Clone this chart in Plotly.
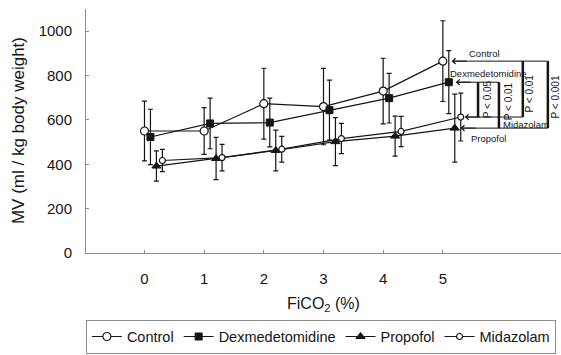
import plotly.graph_objects as go

# ---------------- data ----------------
fico2 = [0, 1, 2, 3, 4, 5]
tick_labels = ["0", "1", "2", "3", "4", "5"]
y_ticks = [0, 200, 400, 600, 800, 1000]

control_mean = [550, 550, 673, 660, 730, 865]
control_sd = [135, 105, 160, 172, 148, 182]
dex_mean = [523, 584, 588, 644, 698, 770]
dex_sd = [125, 114, 110, 135, 112, 142]
prop_mean = [392, 426, 462, 502, 527, 563]
prop_sd = [68, 95, 92, 108, 90, 153]
mid_mean = [417, 430, 468, 516, 548, 613]
mid_sd = [50, 60, 58, 68, 68, 108]

series_names = ["Control", "Dexmedetomidine", "Propofol", "Midazolam"]
p_labels = ["P < 0.05", "P < 0.01", "P < 0.01", "P < 0.001"]

# ---------------- styles ----------------
INK = "#151515"
AXIS = "#8c8c8c"
FONT = "Liberation Sans, Arial, sans-serif"
offsets = [0.0, 0.1, 0.2, 0.3]
markers = [
    dict(symbol="circle", size=8, color="white", line=dict(color=INK, width=1.2)),
    dict(symbol="square", size=7, color=INK, line=dict(color=INK, width=1)),
    dict(symbol="triangle-up", size=8, color=INK, line=dict(color=INK, width=1)),
    dict(symbol="circle", size=6, color="white", line=dict(color=INK, width=1.2)),
]

means = [control_mean, dex_mean, prop_mean, mid_mean]
sds = [control_sd, dex_sd, prop_sd, mid_sd]

fig = go.Figure()
for name, m, s, off, mk in zip(series_names, means, sds, offsets, markers):
    fig.add_trace(go.Scatter(
        x=[v + off for v in fico2], y=m, name=name, mode="lines+markers",
        line=dict(color=INK, width=1.2), marker=mk,
        error_y=dict(type="data", array=s, visible=True, width=2.5,
                     thickness=1.2, color=INK),
        cliponaxis=False,
    ))

# ---------------- significance brackets ----------------
c5, d5, p5, m5 = control_mean[-1], dex_mean[-1], prop_mean[-1], mid_mean[-1]
tip = dict(c=5.15, d=5.22, m=5.37, p=5.30)
bx = [5.59, 5.94, 6.34, 6.76]  # P<0.05 (D-M), P<0.01 (D-P), P<0.01 (C-M), P<0.001 (C-P)

shapes = []
def hline(x0, x1, y, w=1):
    shapes.append(dict(type="line", xref="x", yref="y", x0=x0, x1=x1, y0=y, y1=y,
                       line=dict(color=INK, width=w)))
def vline(x, y0, y1, w=2.5):
    shapes.append(dict(type="line", xref="x", yref="y", x0=x, x1=x, y0=y0, y1=y1,
                       line=dict(color=INK, width=w)))

hline(tip["c"], bx[3], c5)
hline(tip["d"], bx[1], d5)
hline(tip["m"], bx[2], m5)
hline(tip["p"], bx[3], p5)
vline(bx[0], m5, d5)
vline(bx[1], p5, d5)
vline(bx[2], m5, c5)
vline(bx[3], p5, c5)

ann = []
for key, yv in (("c", c5), ("d", d5), ("m", m5), ("p", p5)):
    ann.append(dict(x=tip[key], y=yv, ax=tip[key] + 0.3, ay=yv, xref="x", yref="y",
                    axref="x", ayref="y", text=" ", showarrow=True, arrowhead=4,
                    arrowsize=1.1, arrowwidth=1, arrowcolor=INK))

small = dict(family=FONT, size=9.5, color=INK)
ann.append(dict(x=5.69, y=c5, yshift=8, text="Control", showarrow=False, font=small))
ann.append(dict(x=5.77, y=d5, yshift=9, text="Dexmedetomidine", showarrow=False, font=small))
ann.append(dict(x=6.40, y=m5, yshift=-7, text="Midazolam", showarrow=False, font=small))
ann.append(dict(x=5.77, y=p5, yshift=-10, text="Propofol", showarrow=False, font=small))

ptxt_x = [5.75, 6.10, 6.46, 6.89]
ptxt_y = [(d5 + m5) / 2, (d5 + m5) / 2 - 5, (c5 + m5) / 2 - 20, (c5 + p5) / 2 - 10]
for lab, xx, yy in zip(p_labels, ptxt_x, ptxt_y):
    ann.append(dict(x=xx, y=yy, text=lab, textangle=-90, showarrow=False,
                    font=dict(family=FONT, size=10, color=INK)))

# axis titles as annotations
ann.append(dict(xref="paper", yref="paper", x=0.5, y=-0.213, text="FiCO<sub>2</sub> (%)",
                showarrow=False, xanchor="center", yanchor="middle",
                font=dict(family=FONT, size=16, color=INK)))
ann.append(dict(xref="paper", yref="paper", x=-0.143, y=0.5,
                text="MV (ml / kg body weight)", textangle=-90, showarrow=False,
                xanchor="center", yanchor="middle",
                font=dict(family=FONT, size=17, color=INK)))

fig.update_layout(
    width=561, height=355,
    margin=dict(l=86, r=0, t=9, b=102),
    paper_bgcolor="white", plot_bgcolor="white",
    font=dict(family=FONT, color=INK),
    shapes=shapes, annotations=ann,
    showlegend=True,
    legend=dict(orientation="h", xref="container", yref="container",
                x=0.572, xanchor="center", y=0.004, yanchor="bottom",
                bordercolor=AXIS, borderwidth=1, bgcolor="white",
                font=dict(family=FONT, size=14.5, color=INK), itemwidth=30,
                tracegroupgap=0),
    xaxis=dict(range=[-0.98, 6.98], tickvals=fico2, ticktext=tick_labels,
               showline=True, linecolor=AXIS, linewidth=1, ticks="inside",
               ticklen=3, tickcolor=AXIS, showgrid=False, zeroline=False,
               tickfont=dict(family=FONT, size=15, color=INK), ticklabelstandoff=12),
    yaxis=dict(range=[0, 1100], tickvals=y_ticks, showline=True, linecolor=AXIS,
               linewidth=1, ticks="inside", ticklen=3, tickcolor=AXIS,
               showgrid=False, zeroline=False,
               tickfont=dict(family=FONT, size=15, color=INK), ticklabelstandoff=10),
)

fig.write_html("out.html")
